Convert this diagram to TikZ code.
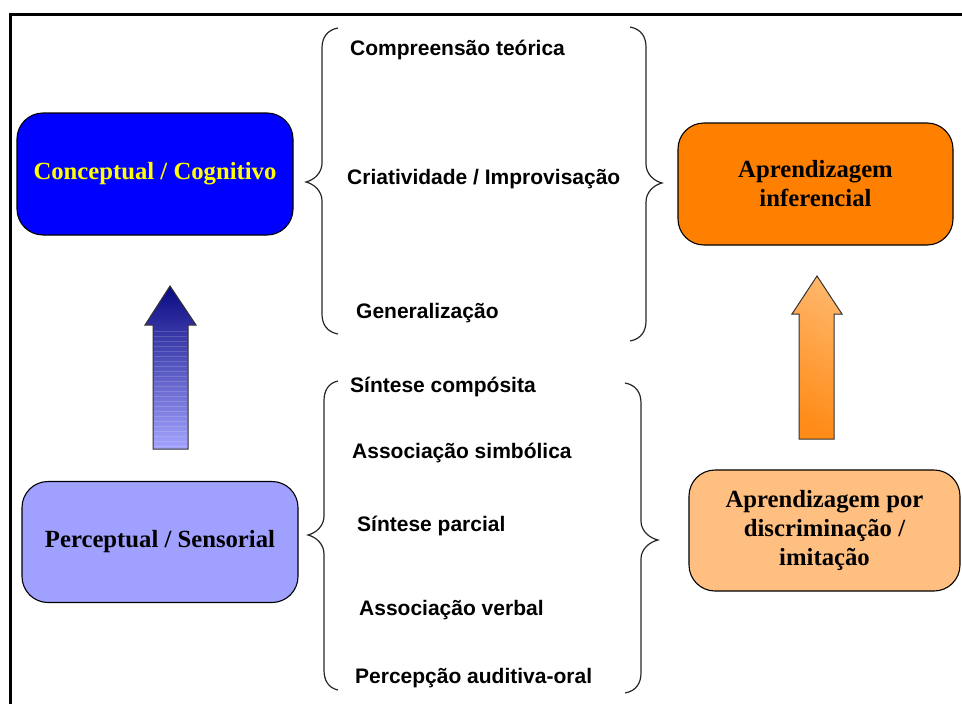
\documentclass[tikz,border=0pt]{standalone}
\usepackage{fontspec}
\setmainfont{Liberation Serif}
\newfontfamily\listfont{Liberation Sans}

% curly brace: #1 x of the straight parts, #2 top y, #3 tip x, #4 tip y,
% #5 bottom y, #6 horizontal reach of the two curled ends (sign = side)
\newcommand\curlybrace[6]{%
  \draw[bracestroke]
    ({#1+(#6)},#2) .. controls ({#1+0.3*(#6)},{#2+2}) and (#1,{#2+10}) .. (#1,{#2+20})
    -- (#1,{#4-19}) .. controls (#1,{#4-9}) and ({#3+0.5*(#1-#3)},{#4-2}) .. (#3,#4)
    .. controls ({#3+0.5*(#1-#3)},{#4+2}) and (#1,{#4+9}) .. (#1,{#4+19})
    -- (#1,{#5-20}) .. controls (#1,{#5-10}) and ({#1+0.3*(#6)},{#5-2}) .. ({#1+(#6)},#5);}

\definecolor{conceptblue}{HTML}{0000FF}
\definecolor{percepblue}{HTML}{A0A0FF}
\definecolor{inferorange}{HTML}{FF8000}
\definecolor{discrorange}{HTML}{FFBF80}
\definecolor{navyarrow}{HTML}{0A0A82}
\definecolor{lavarrow}{HTML}{A4A4FF}
\definecolor{deeporange}{HTML}{FF8C18}
\definecolor{paleorange}{HTML}{FFB466}
\definecolor{conceptyellow}{HTML}{FFFF00}

\begin{document}
\begin{tikzpicture}[x=1pt,y=-1pt,
  box/.style={draw=black, line width=1.1pt, rounded corners=26pt, align=center,
    font=\fontsize{24.7}{29}\selectfont\bfseries, inner sep=0pt},
  item/.style={anchor=base west, inner sep=0pt,
    font=\listfont\fontsize{21}{24}\selectfont\bfseries},
  bracestroke/.style={draw=black!85, line width=1.2pt},
  blockarrow/.style={draw=black!80, line width=1pt, line join=miter}]
\useasboundingbox (0,0) rectangle (962,704);

% outer frame (top and left edges)
\draw[line width=3pt] (10,704) -- (10,14.5) -- (962,14.5);

% level boxes
\node[box, fill=conceptblue, text=conceptyellow, minimum width=276pt, minimum height=122pt]
  (concept) at (155,174) {Conceptual / Cognitivo};
\node[box, fill=percepblue, minimum width=276pt, minimum height=121pt]
  (percept) at (160,542) {Perceptual / Sensorial};
\node[box, fill=inferorange, minimum width=275pt, minimum height=122pt]
  (infer) at (815.5,184) {Aprendizagem\\inferencial};
\node[box, fill=discrorange, minimum width=271pt, minimum height=121pt]
  (discr) at (824.5,530.5) {Aprendizagem por\\discriminação /\\imitação};

% upward block arrows
\path[blockarrow, top color=navyarrow, bottom color=lavarrow]
  (170,286) -- (196,325) -- (188,325) -- (188,449) -- (153,449) -- (153,325) -- (145,325) -- cycle;
\foreach \yy in {331,336,...,446}
  \draw[white, opacity=0.16, line width=0.6pt] (154,\yy) -- (187,\yy);
\path[blockarrow, top color=deeporange, bottom color=paleorange, shading angle=150]
  (817,276) -- (842,314) -- (834,314) -- (834,439) -- (799,439) -- (799,314) -- (792,314) -- cycle;

% braces
\curlybrace{322}{28}{306}{182}{334}{16}
\curlybrace{646}{27}{662}{183}{341}{-16}
\curlybrace{324}{381}{308}{535}{690}{14}
\curlybrace{641}{383}{658}{540}{693}{-16}

% upper list
\node[item] (c1) at (350,55) {Compreensão teórica};
\node[item] (c2) at (347,184) {Criatividade / Improvisação};
\node[item] (c3) at (356,318) {Generalização};

% lower list
\node[item] (p1) at (350,392) {Síntese compósita};
\node[item] (p2) at (352,458) {Associação simbólica};
\node[item] (p3) at (357,531) {Síntese parcial};
\node[item] (p4) at (359,615) {Associação verbal};
\node[item] (p5) at (355,683) {Percepção auditiva-oral};
\end{tikzpicture}
\end{document}
